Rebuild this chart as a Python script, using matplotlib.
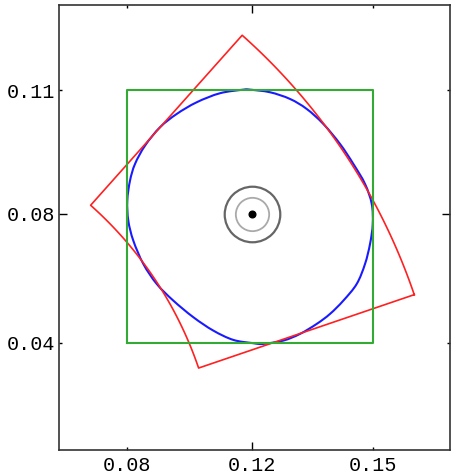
import numpy as np
import matplotlib
matplotlib.use("Agg")
import matplotlib.pyplot as plt
from matplotlib.path import Path
from matplotlib.patches import PathPatch

# point estimate
cx, cy = 0.12, 0.08

# box limits
box_x = [0.0840, 0.1548]
box_y = [0.0429, 0.1157]

# polar box (radius, angle in degrees) around the origin
r_lim = [0.1105, 0.1761]
th_lim = [18.8, 48.3]

# contour
blue_x = [0.11941, 0.11748, 0.11077, 0.10406, 0.09830, 0.09349, 0.08917, 0.08629,
          0.08485, 0.08407, 0.08436, 0.08580, 0.08868, 0.09254, 0.09732, 0.10308,
          0.10884, 0.11460, 0.12036, 0.12324, 0.12900, 0.13381, 0.13862, 0.14245,
          0.14629, 0.15014, 0.15253, 0.15397, 0.15475, 0.15446, 0.15253, 0.14917,
          0.14533, 0.14052, 0.13574, 0.13093, 0.12517]
blue_y = [0.11581, 0.11581, 0.11478, 0.11218, 0.10881, 0.10498, 0.09968, 0.09441,
          0.08960, 0.08384, 0.07808, 0.07232, 0.06561, 0.05985, 0.05504, 0.05026,
          0.04640, 0.04372, 0.04277, 0.04257, 0.04352, 0.04545, 0.04833, 0.05121,
          0.05504, 0.05985, 0.06561, 0.07137, 0.07713, 0.08289, 0.08865, 0.09441,
          0.10017, 0.10593, 0.11025, 0.11313, 0.11506]

xticks = [box_x[0], cx, box_x[1]]
xlabels = ["0.08", "0.12", "0.15"]
yticks = [box_y[0], cy, box_y[1]]
ylabels = ["0.04", "0.08", "0.11"]

plt.rcParams['font.family'] = ['Liberation Mono', 'DejaVu Sans Mono']

fig = plt.figure(figsize=(4.51, 4.76), dpi=100)
ax = fig.add_axes([59/451, 26/476, 391/451, 445/476])

# polar box outline
th = np.radians(np.linspace(th_lim[0], th_lim[1], 60))
rr = np.concatenate([np.full(60, r_lim[1]), np.full(60, r_lim[0])[::-1], [r_lim[1]]])
tt = np.concatenate([th, th[::-1], [th[0]]])
ax.plot(rr*np.cos(tt), rr*np.sin(tt), color='#ff2020', lw=1.2)

ax.plot([box_x[0], box_x[1], box_x[1], box_x[0], box_x[0]],
        [box_y[0], box_y[0], box_y[1], box_y[1], box_y[0]], color='#33aa33', lw=1.5)

# closed contour drawn as a smooth bezier path through the points
P = np.column_stack([blue_x, blue_y])
n = len(P)
verts = [P[0]]
codes = [Path.MOVETO]
for i in range(n):
    p0, p1, p2, p3 = P[i-1], P[i], P[(i+1) % n], P[(i+2) % n]
    verts += [p1 + (p2 - p0)/6, p2 - (p3 - p1)/6, p2]
    codes += [Path.CURVE4]*3
ax.add_patch(PathPatch(Path(verts, codes), fill=False, edgecolor='#1a1aff', lw=1.5))

ax.plot([cx], [cy], 'o', ms=40, mfc='none', mec='#666666', mew=1.6)
ax.plot([cx], [cy], 'o', ms=24, mfc='none', mec='#aaaaaa', mew=1.3)
ax.plot([cx], [cy], 'o', ms=4.8, color='black')

ax.set_xlim(0.0644, 0.1770)
ax.set_ylim(0.0120, 0.1402)

ax.set_xticks([cx])
ax.set_xticklabels([xlabels[1]])
ax.set_xticks([xticks[0], xticks[2]], minor=True)
ax.set_xticklabels([xlabels[0], xlabels[2]], minor=True)
ax.set_yticks([cy])
ax.set_yticklabels([ylabels[1]])
ax.set_yticks([yticks[0], yticks[2]], minor=True)
ax.set_yticklabels([ylabels[0], ylabels[2]], minor=True)

ax.tick_params(which='both', direction='in', top=True, right=True, labelsize=14.5)
ax.tick_params(axis='x', which='both', pad=4.5)
ax.tick_params(axis='y', which='both', pad=3)
ax.tick_params(which='major', length=6, width=1.0)
ax.tick_params(which='minor', length=2.5, width=1.0)

for s in ax.spines.values():
    s.set_color('#333333')
    s.set_linewidth(1.2)

fig.savefig('out.png', dpi=100)
